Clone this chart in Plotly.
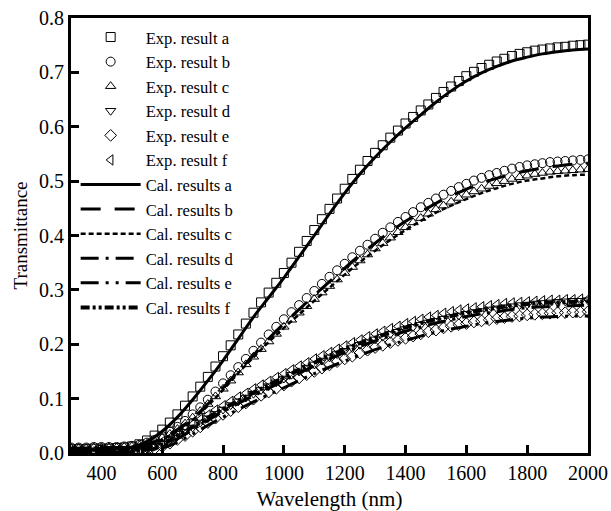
import plotly.graph_objects as go

# Wavelength grids (nm)
wl_exp = list(range(300, 2001, 25))
wl_cal = list(range(300, 2001, 50))

exp_a = [0.007, 0.007, 0.007, 0.008, 0.008, 0.008, 0.009, 0.010, 0.012, 0.016, 0.023, 0.032, 0.043, 0.056, 0.071,
         0.087, 0.104, 0.122, 0.140, 0.159, 0.178, 0.198, 0.218, 0.238, 0.258, 0.277, 0.295, 0.313, 0.331, 0.350,
         0.370, 0.390, 0.410, 0.430, 0.449, 0.468, 0.486, 0.504, 0.521, 0.537, 0.552, 0.566, 0.580, 0.593, 0.606,
         0.618, 0.630, 0.641, 0.653, 0.664, 0.674, 0.684, 0.693, 0.701, 0.708, 0.714, 0.720, 0.725, 0.730, 0.734,
         0.737, 0.740, 0.742, 0.744, 0.746, 0.747, 0.749, 0.750, 0.751]
exp_b = [0.010, 0.010, 0.010, 0.011, 0.011, 0.011, 0.011, 0.012, 0.013, 0.015, 0.019, 0.024, 0.031, 0.039, 0.048,
         0.059, 0.071, 0.084, 0.098, 0.113, 0.128, 0.143, 0.158, 0.173, 0.188, 0.203, 0.218, 0.232, 0.246, 0.259,
         0.272, 0.285, 0.298, 0.311, 0.324, 0.336, 0.348, 0.360, 0.372, 0.383, 0.394, 0.405, 0.415, 0.425, 0.434,
         0.443, 0.452, 0.460, 0.468, 0.475, 0.482, 0.489, 0.495, 0.501, 0.506, 0.511, 0.515, 0.519, 0.523, 0.526,
         0.529, 0.531, 0.533, 0.535, 0.536, 0.537, 0.538, 0.539, 0.540]
exp_c = [0.009, 0.009, 0.009, 0.010, 0.010, 0.010, 0.010, 0.011, 0.012, 0.014, 0.017, 0.022, 0.028, 0.035, 0.044,
         0.054, 0.065, 0.077, 0.090, 0.104, 0.118, 0.133, 0.148, 0.163, 0.177, 0.191, 0.205, 0.219, 0.232, 0.245,
         0.258, 0.270, 0.283, 0.295, 0.307, 0.319, 0.331, 0.342, 0.354, 0.365, 0.376, 0.386, 0.396, 0.406, 0.415,
         0.424, 0.432, 0.440, 0.448, 0.455, 0.462, 0.469, 0.475, 0.481, 0.486, 0.491, 0.496, 0.500, 0.504, 0.507,
         0.510, 0.513, 0.515, 0.517, 0.518, 0.519, 0.520, 0.521, 0.522]
exp_d = [0.002, 0.002, 0.002, 0.002, 0.002, 0.002, 0.003, 0.003, 0.004, 0.005, 0.008, 0.012, 0.017, 0.024, 0.031,
         0.039, 0.047, 0.056, 0.064, 0.072, 0.080, 0.088, 0.095, 0.102, 0.109, 0.116, 0.123, 0.130, 0.137, 0.144,
         0.150, 0.157, 0.163, 0.170, 0.176, 0.182, 0.188, 0.193, 0.199, 0.204, 0.209, 0.214, 0.219, 0.223, 0.228,
         0.232, 0.236, 0.240, 0.243, 0.247, 0.250, 0.253, 0.256, 0.259, 0.261, 0.264, 0.266, 0.268, 0.270, 0.272,
         0.273, 0.275, 0.276, 0.277, 0.278, 0.279, 0.280, 0.280, 0.281]
exp_e = [0.000, 0.000, 0.000, 0.001, 0.001, 0.001, 0.001, 0.001, 0.002, 0.003, 0.005, 0.008, 0.012, 0.018, 0.025,
         0.032, 0.040, 0.048, 0.056, 0.064, 0.071, 0.078, 0.085, 0.092, 0.099, 0.106, 0.112, 0.119, 0.125, 0.132,
         0.138, 0.144, 0.150, 0.156, 0.162, 0.168, 0.173, 0.178, 0.184, 0.189, 0.194, 0.198, 0.203, 0.207, 0.211,
         0.215, 0.219, 0.223, 0.226, 0.230, 0.233, 0.236, 0.238, 0.241, 0.243, 0.245, 0.247, 0.249, 0.251, 0.252,
         0.254, 0.255, 0.256, 0.257, 0.258, 0.258, 0.259, 0.259, 0.260]
exp_f = [0.003, 0.003, 0.003, 0.003, 0.003, 0.003, 0.004, 0.004, 0.005, 0.007, 0.010, 0.015, 0.021, 0.028, 0.036,
         0.044, 0.053, 0.062, 0.070, 0.079, 0.087, 0.095, 0.103, 0.110, 0.118, 0.125, 0.132, 0.139, 0.146, 0.153,
         0.160, 0.166, 0.173, 0.179, 0.185, 0.191, 0.197, 0.203, 0.208, 0.214, 0.219, 0.224, 0.229, 0.233, 0.238,
         0.242, 0.246, 0.250, 0.253, 0.257, 0.260, 0.263, 0.265, 0.267, 0.269, 0.271, 0.273, 0.275, 0.276, 0.277,
         0.278, 0.279, 0.280, 0.281, 0.281, 0.282, 0.282, 0.283, 0.283]

# Calculated transmittance
cal_a = [0.006, 0.006, 0.007, 0.008, 0.011, 0.021, 0.040, 0.066, 0.098, 0.133, 0.170, 0.210, 0.250, 0.286, 0.322,
         0.361, 0.400, 0.440, 0.478, 0.513, 0.544, 0.572, 0.598, 0.622, 0.645, 0.666, 0.684, 0.699, 0.711, 0.721,
         0.728, 0.734, 0.738, 0.741, 0.743]
cal_b = [0.009, 0.009, 0.010, 0.010, 0.011, 0.016, 0.027, 0.043, 0.064, 0.090, 0.120, 0.150, 0.180, 0.210, 0.238,
         0.264, 0.290, 0.315, 0.340, 0.364, 0.386, 0.407, 0.426, 0.443, 0.459, 0.473, 0.485, 0.496, 0.505, 0.513,
         0.519, 0.524, 0.528, 0.531, 0.533]
cal_c = [0.008, 0.008, 0.009, 0.009, 0.010, 0.015, 0.025, 0.040, 0.061, 0.087, 0.116, 0.147, 0.176, 0.204, 0.230,
         0.255, 0.280, 0.304, 0.328, 0.351, 0.372, 0.392, 0.410, 0.427, 0.442, 0.455, 0.467, 0.478, 0.487, 0.495,
         0.501, 0.505, 0.509, 0.511, 0.512]
cal_d = [0.002, 0.002, 0.002, 0.002, 0.003, 0.006, 0.012, 0.026, 0.043, 0.060, 0.076, 0.091, 0.105, 0.119, 0.133,
         0.147, 0.160, 0.173, 0.185, 0.196, 0.206, 0.215, 0.224, 0.232, 0.239, 0.245, 0.251, 0.256, 0.260, 0.264,
         0.267, 0.269, 0.270, 0.271, 0.272]
cal_e = [0.001, 0.001, 0.001, 0.001, 0.002, 0.004, 0.009, 0.020, 0.035, 0.051, 0.066, 0.080, 0.094, 0.107, 0.120,
         0.133, 0.146, 0.158, 0.169, 0.180, 0.190, 0.199, 0.207, 0.215, 0.222, 0.228, 0.233, 0.238, 0.242, 0.245,
         0.248, 0.250, 0.251, 0.252, 0.252]
cal_f = [0.003, 0.003, 0.003, 0.003, 0.004, 0.008, 0.016, 0.031, 0.048, 0.065, 0.081, 0.096, 0.111, 0.125, 0.139,
         0.153, 0.166, 0.179, 0.191, 0.202, 0.212, 0.222, 0.231, 0.239, 0.246, 0.252, 0.258, 0.263, 0.267, 0.271,
         0.274, 0.276, 0.277, 0.278, 0.279]

exp_names = ["Exp. result a", "Exp. result b", "Exp. result c", "Exp. result d", "Exp. result e", "Exp. result f"]
cal_names = ["Cal. results a", "Cal. results b", "Cal. results c", "Cal. results d", "Cal. results e", "Cal. results f"]
exp_series = [exp_a, exp_b, exp_c, exp_d, exp_e, exp_f]
cal_series = [cal_a, cal_b, cal_c, cal_d, cal_e, cal_f]
symbols = ["square-open", "circle-open", "triangle-up-open", "triangle-down-open", "diamond-open", "triangle-left-open"]
dashes = ["solid", "20px,14px", "5px,3px", "18px,7px,3px,7px", "18px,7px,3px,7px,3px,7px", "9px,3px,3px,3px,3px,3px"]
widths = [3, 3, 2.5, 3, 3, 4]

FONT = "'Times New Roman', 'Liberation Serif', 'DejaVu Serif', serif"

fig = go.Figure()
for name, ys, sym in zip(exp_names, exp_series, symbols):
    fig.add_trace(go.Scatter(
        x=wl_exp, y=ys, name=name, mode="markers",
        marker=dict(symbol=sym, size=9, color="black", line=dict(width=1, color="black")),
    ))
for name, ys, dash, w in zip(cal_names, cal_series, dashes, widths):
    fig.add_trace(go.Scatter(
        x=wl_cal, y=ys, name=name, mode="lines",
        line=dict(color="black", width=w, dash=dash, shape="spline"),
    ))

axis_common = dict(
    showline=True, linecolor="black", linewidth=3, mirror=True,
    ticks="inside", ticklen=8, tickwidth=2.5, tickcolor="black",
    showgrid=False, zeroline=False, automargin=False,
    tickfont=dict(family=FONT, size=20, color="black"),
)

fig.update_layout(
    width=611, height=511,
    margin=dict(l=71, r=23, t=18, b=58, autoexpand=False),
    paper_bgcolor="white", plot_bgcolor="white",
    font=dict(family=FONT, color="black"),
    xaxis=dict(range=[300, 2000], tick0=0, dtick=200,
               title=dict(text="Wavelength (nm)", font=dict(family=FONT, size=21, color="black"), standoff=10),
               **axis_common),
    yaxis=dict(range=[0, 0.8], dtick=0.1, tickformat=".1f",
               title=dict(text="Transmittance", font=dict(family=FONT, size=19, color="black"), standoff=7),
               **axis_common),
    legend=dict(x=0.009, y=0.996, xanchor="left", yanchor="top",
                bgcolor="rgba(0,0,0,0)", borderwidth=0, maxheight=420,
                font=dict(family=FONT, size=16.6, color="black"),
                itemwidth=60, tracegroupgap=0),
    showlegend=True,
)

fig.write_html("out.html")
